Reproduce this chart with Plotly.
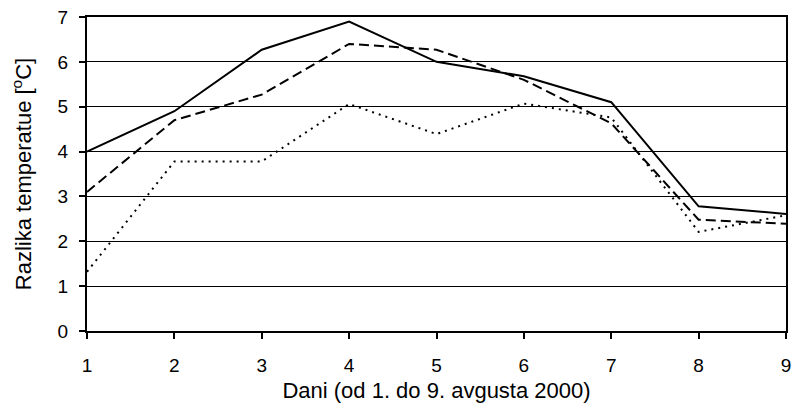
import plotly.graph_objects as go

days = [1, 2, 3, 4, 5, 6, 7, 8, 9]
solid_vals = [4.0, 4.9, 6.27, 6.9, 6.0, 5.68, 5.1, 2.78, 2.61]
dashed_vals = [3.1, 4.7, 5.27, 6.4, 6.27, 5.6, 4.63, 2.48, 2.39]
dotted_vals = [1.32, 3.78, 3.78, 5.06, 4.39, 5.07, 4.76, 2.21, 2.58]
y_ticks = [0, 1, 2, 3, 4, 5, 6, 7]

x_title = "Dani (od 1. do 9. avgusta 2000)"
y_title = "Razlika temperatue [<sup>o</sup>C]"

font = "Liberation Sans, Arial, sans-serif"

fig = go.Figure()
fig.add_trace(go.Scatter(x=days, y=solid_vals, mode="lines",
                         line=dict(color="black", width=2, dash="solid"), showlegend=False))
fig.add_trace(go.Scatter(x=days, y=dashed_vals, mode="lines",
                         line=dict(color="black", width=2, dash="10px,5px"), showlegend=False))
fig.add_trace(go.Scatter(x=days, y=dotted_vals, mode="lines",
                         line=dict(color="black", width=2, dash="2px,5px"), showlegend=False))

fig.update_layout(
    width=796, height=410,
    margin=dict(l=87, r=10, t=17, b=79),
    paper_bgcolor="white", plot_bgcolor="white",
    font=dict(family=font, size=18, color="black"),
    xaxis=dict(
        range=[1, 9], tickvals=days, ticks="outside", ticklen=6, tickwidth=1.5, tickcolor="black",
        showline=True, linecolor="black", linewidth=2, mirror=True,
        showgrid=False, zeroline=False, automargin=False,
        title=dict(text=x_title, font=dict(size=22), standoff=8),
        tickfont=dict(size=19), ticklabelstandoff=10,
    ),
    yaxis=dict(
        range=[0, 7], tickvals=y_ticks, ticks="outside", ticklen=6, tickwidth=1.5,
        tickcolor="black",
        showline=True, linecolor="black", linewidth=2, mirror=True,
        showgrid=True, gridcolor="black", gridwidth=1.2, zeroline=False, automargin=False,
        title=dict(text=y_title, font=dict(size=22), standoff=20),
        tickfont=dict(size=19), ticklabelstandoff=7,
    ),
)

fig.write_html("out.html", config={"displayModeBar": False},
               post_script="document.body.style.margin='0';document.body.style.overflow='hidden';")
